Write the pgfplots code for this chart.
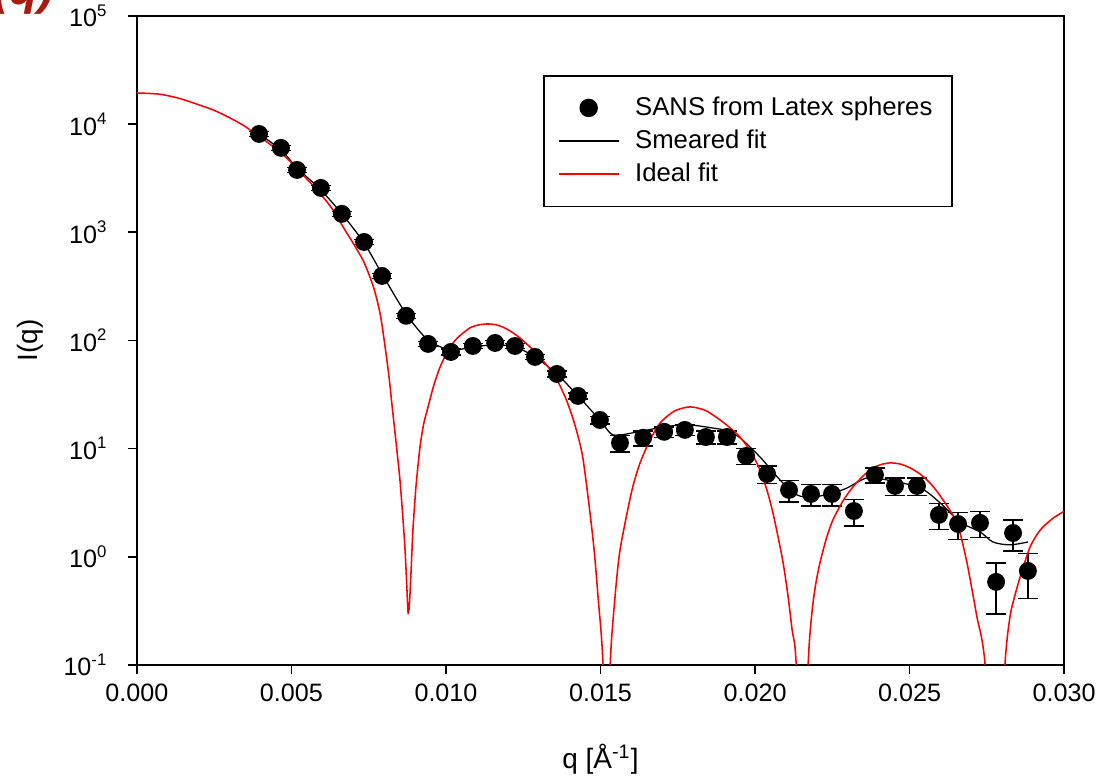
\documentclass[border=0pt]{standalone}
\usepackage{fontspec}
\setmainfont{Liberation Sans}
\usepackage{pgfplots}
\pgfplotsset{compat=1.18}
\usetikzlibrary{calc}
\definecolor{darkred}{RGB}{168,28,16}
\pgfplotsset{
  longlegend/.style={legend image code/.code={\draw[mark repeat=2,mark phase=2,##1] plot coordinates {(0cm,0cm) (0.378cm,0cm) (0.756cm,0cm)};}}
}
\begin{document}
\begin{tikzpicture}
\begin{axis}[
  scale only axis,
  width=331.7pt, height=232.2pt,
  ymode=log,
  xmin=0, xmax=0.030, ymin=0.1, ymax=1e5,
  scaled x ticks=false,
  xtick={0,0.005,0.010,0.015,0.020,0.025,0.030},
  xticklabels={0.000,0.005,0.010,0.015,0.020,0.025,0.030},
  ytick={0.1,1,10,100,1000,10000,100000},
  yticklabels={10\textsuperscript{-1},10\textsuperscript{0},10\textsuperscript{1},10\textsuperscript{2},10\textsuperscript{3},10\textsuperscript{4},10\textsuperscript{5}},
  yminorticks=false, xminorticks=false,
  tick align=outside,
  tick pos=left,
  major tick length=3.3pt,
  axis line style={line width=0.6pt},
  every tick/.style={black, line width=0.6pt},
  tick label style={font=\fontsize{9}{10}\selectfont},
  yticklabel style={xshift=-3.6pt},
  xlabel={q [Å\textsuperscript{-1}]},
  ylabel={I(q)},
  xlabel style={font=\fontsize{10}{12}\selectfont, at={(axis description cs:0.5,-0.159)}, anchor=base},
  ylabel style={font=\fontsize{10}{12}\selectfont, at={(axis description cs:-0.115,0.5)}, anchor=center},
  legend style={at={(0.438,0.909)}, anchor=north west, draw=black, line width=0.6pt,
    font=\fontsize{9.2}{11}\selectfont, inner xsep=5pt, inner ysep=5.4pt, row sep=-0.3pt, column sep=3.6pt},
  legend cell align=left,
]
\coordinate (SW) at (rel axis cs:0,0);
\coordinate (NE) at (rel axis cs:1,1);

\addplot[only marks, mark=*, mark size=3pt, black, mark options={fill=black}, longlegend,
  error bars/.cd, y dir=both, y explicit,
  error bar style={line width=0.5pt, black},
  error mark options={rotate=90, mark size=3.5pt, line width=0.5pt, black}]
coordinates {
(0.00395,8110) +- (0,400)
(0.00466,6030) +- (0,300)
(0.00518,3770) +- (0,190)
(0.00595,2570) +- (0,130)
(0.00663,1480) +- (0,75)
(0.00735,814) +- (0,40)
(0.00793,395) +- (0,20)
(0.00871,169) +- (0,9)
(0.00942,92.9) +- (0,5)
(0.01016,78.3) +- (0,5)
(0.01087,88.9) +- (0,5)
(0.01159,94.8) +- (0,5)
(0.01223,88.9) +- (0,5)
(0.01288,70.4) +- (0,4)
(0.01359,49.0) +- (0,3)
(0.01427,30.7) +- (0,2)
(0.01498,18.4) +- (0,1.5)
(0.01563,11.3) +- (0,2.0)
(0.01638,12.6) +- (0,2.0)
(0.01706,14.3) +- (0,1.6)
(0.01773,14.9) +- (0,1.6)
(0.01841,12.8) +- (0,1.8)
(0.01909,12.8) +- (0,1.8)
(0.01971,8.55) +- (0,1.45)
(0.02039,5.83) +- (0,1.1)
(0.02110,4.15) +- (0,0.93)
(0.02181,3.81) +- (0,0.87)
(0.02249,3.81) +- (0,0.87)
(0.02320,2.65) +- (0,0.73)
(0.02388,5.71) +- (0,0.9)
(0.02453,4.52) +- (0,0.85)
(0.02524,4.52) +- (0,0.85)
(0.02595,2.44) +- (0,0.65)
(0.02657,2.01) +- (0,0.56)
(0.02728,2.06) +- (0,0.55)
(0.02780,0.586) +- (0,0.29)
(0.02835,1.66) +- (0,0.53)
(0.02883,0.74) +- (0,0.33)
};
\addlegendentry{SANS from Latex spheres}

\addplot[black, line width=0.45pt, smooth, no marks, longlegend]
coordinates {
(0.00395,8110) (0.00466,5770) (0.00518,3940) (0.00595,2460) (0.00663,1480)
(0.00735,796) (0.00793,412) (0.00871,176) (0.00942,101) (0.01016,81.7)
(0.01087,87.1) (0.01159,90.9) (0.01223,87.1) (0.01288,70.4) (0.01359,49.0)
(0.01427,30.7) (0.01498,18.4) (0.01540,13.4) (0.01605,14.0) (0.01702,15.8)
(0.01780,16.6) (0.01864,15.5) (0.01909,14.6) (0.01951,12.6) (0.02016,8.38)
(0.02081,5.13) (0.02136,3.73) (0.02188,3.57) (0.02252,3.89) (0.02298,4.33)
(0.02362,5.36) (0.02427,5.13) (0.02534,4.33) (0.02599,3.15) (0.02663,2.10)
(0.02728,1.70) (0.02770,1.37) (0.02825,1.29) (0.02883,1.37)
};
\addlegendentry{Smeared fit}

\addplot[red, line width=0.55pt, no marks, smooth, tension=0.45, longlegend]
coordinates {
(0,19400) (0.00074,18900) (0.00140,17200) (0.00194,15300) (0.00250,13400) (0.00301,11400) (0.00348,9600) (0.00388,7940)
(0.00425,6700) (0.00463,5530) (0.00500,4400) (0.00537,3390) (0.00570,2700) (0.00602,2120) (0.00635,1600) (0.00667,1120) (0.00700,790) (0.00731,555)
(0.00752,400) (0.00770,281) (0.00788,170) (0.00803,87.1) (0.00816,45) (0.00828,21.4) (0.00840,10.4) (0.00851,5.13) (0.00860,2.4) (0.00867,1.23)
(0.00873,0.55) (0.00877,0.309) (0.00880,0.32) (0.00883,0.426) (0.00888,0.85) (0.00893,1.77) (0.00903,4.5) (0.00916,10.4) (0.00928,17) (0.00942,24.3)
(0.00960,38) (0.00981,56.9) (0.01008,82) (0.01036,105) (0.01078,131) (0.01105,139) (0.01133,142) (0.01160,140) (0.01184,133)
(0.01210,121) (0.01240,105) (0.01282,81.7) (0.01320,62) (0.01359,43.2) (0.01390,28) (0.01417,16.6) (0.01442,8.5) (0.01466,2.54) (0.01480,1.1) (0.01492,0.426)
(0.01508,0.1) (0.01519,0.003) (0.01531,0.096) (0.01547,0.426) (0.01562,1.1) (0.01586,2.54) (0.01605,4.5)
(0.01628,7.38) (0.01660,12) (0.01693,17.3) (0.01740,22.3) (0.01790,24.3) (0.01840,22.5) (0.01887,18.4) (0.01920,15.5) (0.01951,12.8)
(0.01985,9.5) (0.02016,6.35) (0.02040,4.0) (0.02058,2.54) (0.02075,1.5) (0.02091,0.877) (0.02106,0.45) (0.02120,0.211) (0.02133,0.104)
(0.02152,0.003) (0.02172,0.104) (0.02184,0.303) (0.02196,0.55) (0.02210,0.877) (0.02230,1.45) (0.02252,2.19) (0.02285,3.3)
(0.02317,4.43) (0.02350,5.6) (0.02382,6.63) (0.02410,7.15) (0.02437,7.38) (0.02470,7.2) (0.02502,6.63) (0.02535,5.8) (0.02566,4.82)
(0.02588,4.05) (0.02608,3.36) (0.02632,2.65) (0.02654,2.06) (0.02670,1.4) (0.02686,0.877) (0.02702,0.5) (0.02718,0.278) (0.02744,0.104)
(0.02777,0.003) (0.02809,0.104) (0.02825,0.278) (0.02840,0.43) (0.02858,0.652) (0.02875,0.93) (0.02890,1.23) (0.02910,1.57)
(0.02932,1.89) (0.02965,2.28) (0.02997,2.60) (0.03000,2.62)
};
\addlegendentry{Ideal fit}
\end{axis}
\node[anchor=base west, text=darkred, font=\fontsize{17}{17}\bfseries\itshape, inner sep=0pt]
  at ($(SW|-NE)+(-51.5pt,4.2pt)$) {(q)};
\pgfresetboundingbox
\path[use as bounding box] ($(SW)+(-49pt,-41.5pt)$) rectangle ($(NE)+(19.3pt,5.7pt)$);
\end{tikzpicture}
\end{document}
